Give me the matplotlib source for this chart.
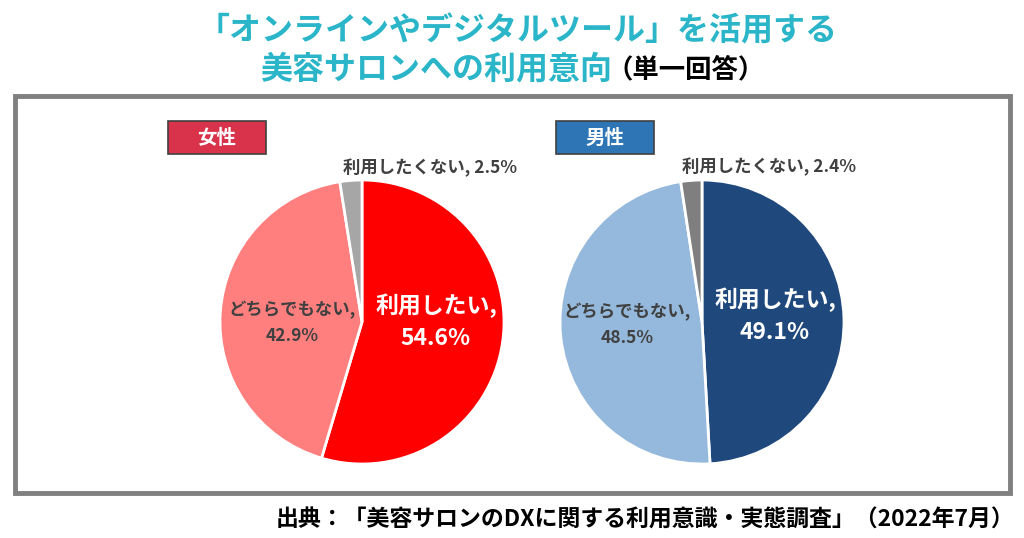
import matplotlib
matplotlib.use('Agg')
import matplotlib.pyplot as plt
from matplotlib.patches import Rectangle

plt.rcParams['font.family'] = ['Noto Sans CJK JP', 'DejaVu Sans']

W, H = 1024, 538

# data
categories = ['利用したい', 'どちらでもない', '利用したくない']
women = [54.6, 42.9, 2.5]
men = [49.1, 48.5, 2.4]
women_colors = ['#ff0000', '#ff7f7f', '#a6a6a6']
men_colors = ['#1f497d', '#95b9dc', '#7f7f7f']

teal = '#2bb5c8'
gray_text = '#404040'


def px(x, y):
    return x / W, 1 - y / H


fig = plt.figure(figsize=(W / 100, H / 100), dpi=100)

# title
fig.text(*px(518, 31), '「オンラインやデジタルツール」を活用する', color=teal,
         fontsize=23, fontweight='bold', ha='center', va='center')
fig.text(*px(260, 69), '美容サロンへの利用意向', color=teal,
         fontsize=23, fontweight='bold', ha='left', va='center')
fig.text(*px(606, 70), '（単一回答）', color='black',
         fontsize=19, fontweight='bold', ha='left', va='center')

# outer frame
fig.patches.append(Rectangle(px(15, 493), 995 / W, 397 / H, transform=fig.transFigure,
                             fill=False, edgecolor='#808080', linewidth=3.5))


def draw_pie(cx, cy, r, values, colors, tag, tag_color, tag_x):
    ax = fig.add_axes([(cx - r) / W, 1 - (cy + r) / H, 2 * r / W, 2 * r / H])
    ax.pie(values, colors=colors, startangle=90, counterclock=False,
           wedgeprops=dict(edgecolor='white', linewidth=2))
    ax.set_xlim(-1, 1)
    ax.set_ylim(-1, 1)
    ax.set_aspect('equal')
    ax.axis('off')
    fig.patches.append(Rectangle(px(tag_x, 154), 98 / W, 33 / H, transform=fig.transFigure,
                                 facecolor=tag_color, edgecolor='#404040', linewidth=1.2))
    fig.text(*px(tag_x + 49, 138), tag, color='white', fontsize=14,
             fontweight='bold', ha='center', va='center')
    return ax


draw_pie(362, 322, 142, women, women_colors, '女性', '#d8334a', 168)
draw_pie(702, 322, 142, men, men_colors, '男性', '#2e75b6', 556)

# labels
fig.text(*px(430, 168), f'{categories[2]}, {women[2]}%', color=gray_text,
         fontsize=12.5, fontweight='bold', ha='center', va='center')
fig.text(*px(769, 167), f'{categories[2]}, {men[2]}%', color=gray_text,
         fontsize=12.5, fontweight='bold', ha='center', va='center')

fig.text(*px(436, 322), f'{categories[0]},\n{women[0]}%', color='white',
         fontsize=16.5, fontweight='bold', ha='center', va='center', linespacing=1.5)
fig.text(*px(775, 316), f'{categories[0]},\n{men[0]}%', color='white',
         fontsize=16.5, fontweight='bold', ha='center', va='center', linespacing=1.5)

fig.text(*px(292, 323), f'{categories[1]},\n{women[1]}%', color=gray_text,
         fontsize=12.5, fontweight='bold', ha='center', va='center', linespacing=1.5)
fig.text(*px(627, 325), f'{categories[1]},\n{men[1]}%', color=gray_text,
         fontsize=12.5, fontweight='bold', ha='center', va='center', linespacing=1.5)

# source
fig.text(*px(1014, 520), '出典：「美容サロンのDXに関する利用意識・実態調査」（2022年7月）',
         color='black', fontsize=16.5, fontweight='bold', ha='right', va='center')

fig.savefig('out.png', dpi=100)
